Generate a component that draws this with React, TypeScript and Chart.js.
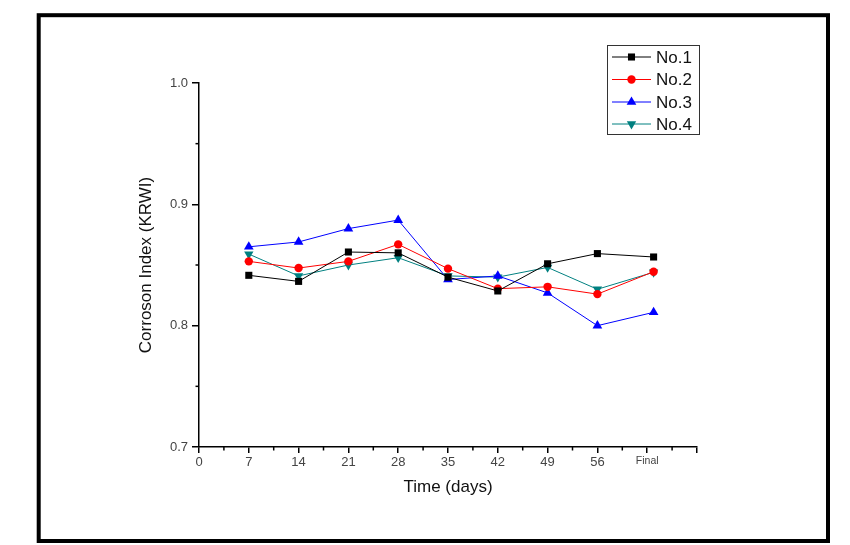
import React, { useEffect, useRef } from "react";
import { Chart, registerables } from "chart.js";

Chart.register(...registerables);

const days = [7, 14, 21, 28, 35, 42, 49, 56, 63.9];
const no1 = [0.8415, 0.8365, 0.8607, 0.860, 0.840, 0.8286, 0.851, 0.8594, 0.8566];
const no2 = [0.853, 0.8475, 0.853, 0.867, 0.847, 0.8305, 0.832, 0.826, 0.8445];
const no3 = [0.865, 0.869, 0.880, 0.887, 0.838, 0.841, 0.827, 0.800, 0.811];
const no4 = [0.859, 0.841, 0.850, 0.856, 0.841, 0.840, 0.848, 0.830, 0.844];
const seriesNames = ["No.1", "No.2", "No.3", "No.4"];
const xTickLabels: Record<number, string> = { 0: "0", 7: "7", 14: "14", 21: "21", 28: "28", 35: "35", 42: "42", 49: "49", 56: "56", 63: "Final", 70: "" };
const yTickValues = [0.7, 0.8, 0.9, 1.0];

const FONT = "'Liberation Sans', Arial, sans-serif";

const styles = [
  { color: "#000000", point: "rect", radius: 5, rotation: 0 },
  { color: "#ff0000", point: "circle", radius: 4.2, rotation: 0 },
  { color: "#0000ff", point: "triangle", radius: 5.6, rotation: 0 },
  { color: "#008080", point: "triangle", radius: 5.4, rotation: 180 },
];

function drawMarker(ctx: CanvasRenderingContext2D, kind: string, x: number, y: number, r: number, rot: number, color: string) {
  ctx.save();
  ctx.fillStyle = color;
  ctx.beginPath();
  if (kind === "rect") {
    const s = Math.SQRT1_2 * r;
    ctx.rect(x - s, y - s, 2 * s, 2 * s);
  } else if (kind === "circle") {
    ctx.arc(x, y, r, 0, Math.PI * 2);
  } else {
    const a0 = (rot * Math.PI) / 180 - Math.PI / 2;
    for (let i = 0; i < 3; i++) {
      const a = a0 + (i * 2 * Math.PI) / 3;
      const px = x + r * Math.cos(a);
      const py = y + r * Math.sin(a);
      if (i === 0) ctx.moveTo(px, py);
      else ctx.lineTo(px, py);
    }
    ctx.closePath();
  }
  ctx.fill();
  ctx.restore();
}

const decorPlugin = {
  id: "decor",
  afterDraw(chart: any) {
    const ctx: CanvasRenderingContext2D = chart.ctx;
    const xs = chart.scales.x;
    const ys = chart.scales.y;
    ctx.save();
    // minor ticks
    ctx.strokeStyle = "#000";
    ctx.lineWidth = 1.5;
    for (let v = 3.5; v < 70; v += 7) {
      const px = xs.getPixelForValue(v);
      ctx.beginPath();
      ctx.moveTo(px, ys.bottom);
      ctx.lineTo(px, ys.bottom + 3.5);
      ctx.stroke();
    }
    [0.75, 0.85, 0.95].forEach((v) => {
      const py = ys.getPixelForValue(v);
      ctx.beginPath();
      ctx.moveTo(xs.left, py);
      ctx.lineTo(xs.left - 3.5, py);
      ctx.stroke();
    });
    // legend
    const lx = 607.5, ly = 45.5, lw = 92, lh = 89;
    ctx.strokeStyle = "#333";
    ctx.lineWidth = 1;
    ctx.strokeRect(lx, ly, lw, lh);
    const rows = [57, 79.5, 102, 124];
    ctx.font = `17px ${FONT}`;
    ctx.textBaseline = "middle";
    ctx.textAlign = "left";
    styles.forEach((s, i) => {
      const y = rows[i];
      ctx.strokeStyle = s.color;
      ctx.lineWidth = 1;
      ctx.beginPath();
      ctx.moveTo(612, y);
      ctx.lineTo(651, y);
      ctx.stroke();
      drawMarker(ctx, s.point, 631.5, y, s.radius, s.rotation, s.color);
      ctx.fillStyle = "#111";
      ctx.fillText(seriesNames[i], 656, y + 1);
    });
    // outer frame
    ctx.strokeStyle = "#000";
    ctx.lineWidth = 4;
    ctx.strokeRect(38.7, 15.2, 789.3, 525.8);
    ctx.restore();
  },
};

export default function App() {
  const ref = useRef<HTMLCanvasElement | null>(null);
  useEffect(() => {
    if (!ref.current) return;
    const all = [no1, no2, no3, no4];
    const chart = new Chart(ref.current, {
      type: "line",
      data: {
        datasets: all.map((vals, i) => ({
          label: seriesNames[i],
          data: days.map((d, j) => ({ x: d, y: vals[j] })),
          borderColor: styles[i].color,
          backgroundColor: styles[i].color,
          borderWidth: 1,
          pointStyle: styles[i].point as any,
          pointRadius: styles[i].radius,
          pointRotation: styles[i].rotation,
          pointBorderWidth: 0,
          tension: 0,
        })),
      },
      options: {
        responsive: false,
        animation: false,
        devicePixelRatio: 1,
        layout: { padding: { left: 0, top: 83, right: 153, bottom: 0 } },
        plugins: { legend: { display: false }, tooltip: { enabled: false } },
        scales: {
          x: {
            type: "linear",
            min: 0,
            max: 70,
            afterFit: (s: any) => { s.height = 98; },
            afterBuildTicks: (s: any) => {
              s.ticks = Object.keys(xTickLabels).map((k) => ({ value: Number(k) }));
            },
            border: { color: "#000", width: 1.5 },
            grid: { drawOnChartArea: false, drawTicks: true, tickLength: 6, color: "#000", lineWidth: 1.5 },
            ticks: {
              autoSkip: false,
              maxRotation: 0,
              padding: 2,
              color: "#444",
              font: (c: any) => ({ family: FONT, size: c.tick && c.tick.value === 63 ? 10.5 : 13 }),
              callback: (v: any) => xTickLabels[Number(v)] ?? "",
            },
            title: {
              display: true,
              text: "Time (days)",
              color: "#111",
              font: { family: FONT, size: 17 },
              padding: { top: 0, bottom: 47.5 },
            },
          },
          y: {
            type: "linear",
            min: 0.7,
            max: 1.0,
            afterFit: (s: any) => { s.width = 199; },
            afterBuildTicks: (s: any) => {
              s.ticks = yTickValues.map((v) => ({ value: v }));
            },
            border: { color: "#000", width: 1.5 },
            grid: { drawOnChartArea: false, drawTicks: true, tickLength: 7, color: "#000", lineWidth: 1.5 },
            ticks: {
              padding: 4,
              color: "#444",
              font: { family: FONT, size: 13 },
              callback: (v: any) => Number(v).toFixed(1),
            },
            title: {
              display: true,
              text: "Corroson Index (KRWI)",
              color: "#111",
              font: { family: FONT, size: 17 },
              padding: { top: 136, bottom: 0 },
            },
          },
        },
      },
      plugins: [decorPlugin],
    });
    return () => chart.destroy();
  }, []);
  return (
    <div style={{ position: "fixed", left: 0, top: 0, width: 850, height: 545, background: "#fff" }}>
      <canvas ref={ref} width={850} height={545} style={{ display: "block", width: 850, height: 545 }} />
    </div>
  );
}
